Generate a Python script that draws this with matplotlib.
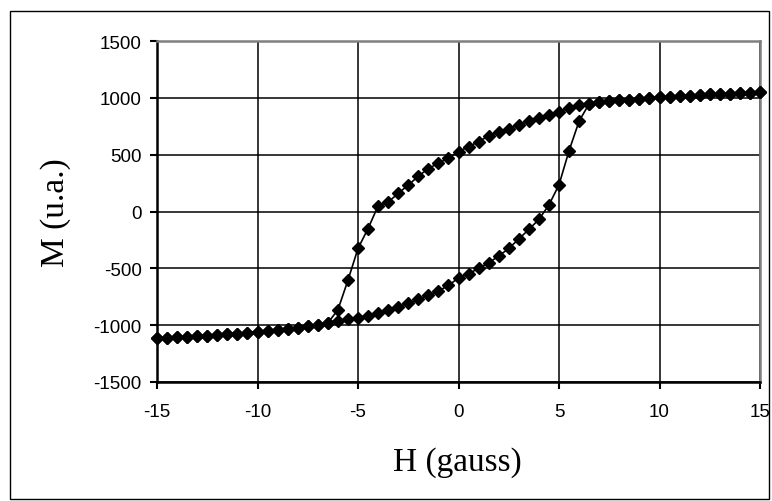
import matplotlib
matplotlib.use("Agg")
import matplotlib.pyplot as plt
from matplotlib.patches import Rectangle

# Descending branch (H from +15 to -15)
H_down = [15, 14.5, 14, 13.5, 13, 12.5, 12, 11.5, 11, 10.5, 10, 9.5, 9, 8.5, 8, 7.5,
          7, 6.5, 6, 5.5, 5, 4.5, 4, 3.5, 3, 2.5, 2, 1.5, 1, 0.5, 0, -0.5, -1, -1.5,
          -2, -2.5, -3, -3.5, -4, -4.5, -5, -5.5, -6, -6.5, -7, -7.5, -8, -8.5, -9,
          -9.5, -10, -10.5, -11, -11.5, -12, -12.5, -13, -13.5, -14, -14.5, -15]
M_down = [1050, 1046, 1042, 1038, 1034, 1030, 1025, 1020, 1016, 1011, 1005, 1000, 993,
          985, 978, 970, 960, 948, 935, 910, 878, 850, 822, 795, 762, 730, 700, 665,
          615, 570, 525, 470, 425, 378, 310, 232, 160, 82, 50, -150, -325, -605, -865,
          -980, -995, -1008, -1022, -1031, -1040, -1049, -1058, -1066, -1075, -1081,
          -1087, -1092, -1097, -1101, -1106, -1110, -1112]

# Ascending branch (H from -15 to +15)
H_up = [-15, -14.5, -14, -13.5, -13, -12.5, -12, -11.5, -11, -10.5, -10, -9.5, -9,
        -8.5, -8, -7.5, -7, -6.5, -6, -5.5, -5, -4.5, -4, -3.5, -3, -2.5, -2, -1.5,
        -1, -0.5, 0, 0.5, 1, 1.5, 2, 2.5, 3, 3.5, 4, 4.5, 5, 5.5, 6, 6.5, 7, 7.5, 8,
        8.5, 9, 9.5, 10, 10.5, 11, 11.5, 12, 12.5, 13, 13.5, 14, 14.5, 15]
M_up = [-1112, -1110, -1106, -1101, -1097, -1092, -1087, -1081, -1075, -1066, -1058,
        -1049, -1040, -1031, -1022, -1008, -995, -980, -965, -950, -935, -915, -893,
        -868, -838, -808, -772, -738, -700, -650, -585, -548, -500, -452, -392, -325,
        -242, -158, -70, 58, 235, 535, 795, 948, 960, 970, 978, 985, 993, 1000, 1005,
        1011, 1016, 1020, 1025, 1030, 1034, 1038, 1042, 1046, 1050]

x_ticks = [-15, -10, -5, 0, 5, 10, 15]
y_ticks = [-1500, -1000, -500, 0, 500, 1000, 1500]
x_label = "H (gauss)"
y_label = "M (u.a.)"

W, Hh = 772, 502
fig = plt.figure(figsize=(W / 100, Hh / 100), dpi=100)
fig.patch.set_facecolor("white")

# outer frame
fig.patches.append(Rectangle((10 / W, 2 / Hh), 759 / W, 488 / Hh, transform=fig.transFigure,
                             fill=False, edgecolor="black", linewidth=1.0))

left, right, top, bottom = 157, 760, 42, 383
ax = fig.add_axes([left / W, 1 - bottom / Hh, (right - left) / W, (bottom - top) / Hh])

ax.plot(H_down + H_up, M_down + M_up, color="black", linewidth=1.2,
        marker="D", markersize=6.5, markerfacecolor="black", markeredgecolor="black",
        zorder=3, clip_on=False)

ax.set_xlim(-15, 15)
ax.set_ylim(-1500, 1500)
ax.set_xticks(x_ticks)
ax.set_yticks(y_ticks)
ax.set_xticklabels([str(t) for t in x_ticks])
ax.set_yticklabels([str(t) for t in y_ticks])
ax.grid(True, color="black", linewidth=1.1)
ax.set_axisbelow(True)

for s in ["left", "bottom"]:
    ax.spines[s].set_color("black")
    ax.spines[s].set_linewidth(1.8)
for s in ["top", "right"]:
    ax.spines[s].set_color("#808080")
    ax.spines[s].set_linewidth(1.8)

ax.tick_params(axis="both", direction="out", length=5, width=1.5, color="black",
               labelsize=13.5)
ax.tick_params(axis="y", pad=6)
ax.tick_params(axis="x", pad=10)
for lab in ax.get_xticklabels() + ax.get_yticklabels():
    lab.set_fontfamily(["Liberation Sans", "DejaVu Sans"])

fig.text(457 / W, 1 - 463 / Hh, x_label, ha="center", va="center",
         fontsize=24, family=["Liberation Serif", "DejaVu Serif"])
fig.text(56 / W, 1 - 213 / Hh, y_label, ha="center", va="center", rotation=90,
         fontsize=24, family=["Liberation Serif", "DejaVu Serif"])

fig.savefig("out.png", dpi=100, facecolor="white")
